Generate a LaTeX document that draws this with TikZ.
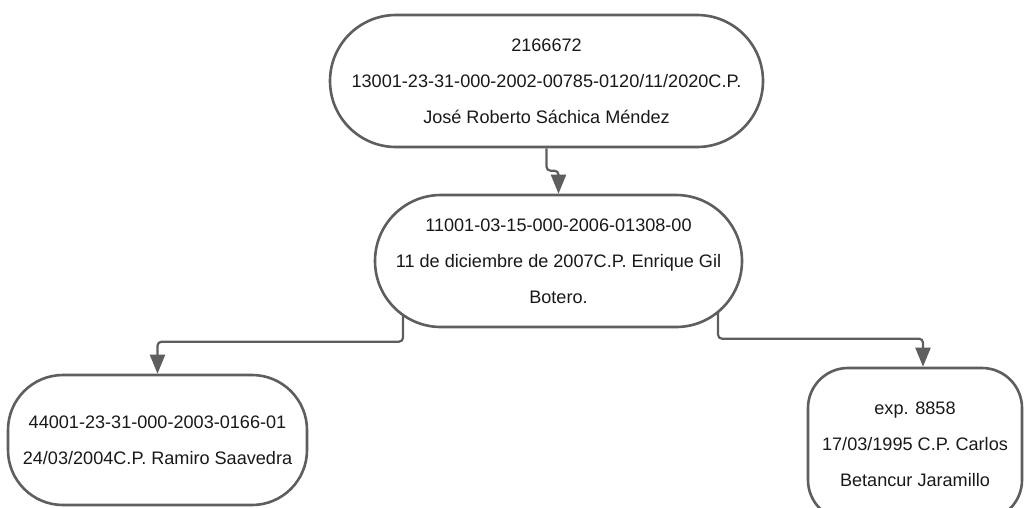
\documentclass[tikz,border=0pt]{standalone}
\usepackage{fontspec}
\setmainfont{Liberation Sans}
\usetikzlibrary{arrows.meta,backgrounds}
\definecolor{edgegray}{HTML}{5E5E5E}

\begin{document}
\begin{tikzpicture}[x=1pt,y=-1pt,
    case node/.style={draw=edgegray,line width=2.6pt,fill=white,align=center,inner sep=0pt,text=black!90,font=\fontsize{18.1}{36}\selectfont},
    link/.style={draw=edgegray,line width=2.2pt,rounded corners=4pt,-{Triangle[length=19pt,width=15pt]}}]
    \useasboundingbox (0,0) rectangle (1025,507);
    \clip (0,0) rectangle (1025,507);

    \node[case node,minimum width=433pt,minimum height=132pt,rounded corners=66pt] (top) at (546.5,81)
        {2166672\\13001-23-31-000-2002-00785-0120/11/2020C.P.\\José Roberto Sáchica Méndez};
    \node[case node,minimum width=367pt,minimum height=132pt,rounded corners=66pt] (mid) at (558.5,261)
        {11001-03-15-000-2006-01308-00\\11 de diciembre de 2007C.P. Enrique Gil\\Botero.};
    \node[case node,minimum width=299pt,minimum height=130pt,rounded corners=55pt] (left) at (157.5,440)
        {44001-23-31-000-2003-0166-01\\24/03/2004C.P. Ramiro Saavedra};
    \node[case node,minimum width=214pt,minimum height=152pt,rounded corners=40pt] (right) at (915,444)
        {exp. 8858\\17/03/1995 C.P. Carlos\\Betancur Jaramillo};

    \begin{scope}[on background layer]
        \draw[link] (top.south) |- ([yshift=23pt]mid.north) -- (mid.north);
        \draw[link] ([xshift=-155.5pt]mid.center) |- ([yshift=32pt]left.north) -- (left.north);
        \draw[link] ([xshift=159.5pt]mid.center) |- ([xshift=8pt,yshift=28pt]right.north) -- ([xshift=8pt]right.north);
    \end{scope}
\end{tikzpicture}
\end{document}
